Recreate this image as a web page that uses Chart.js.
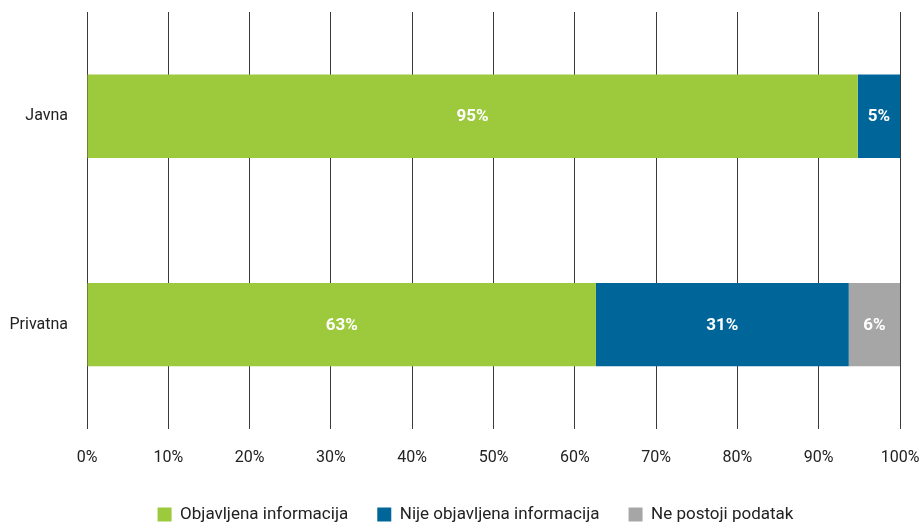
<!DOCTYPE html>
<html>
<head>
<meta charset="utf-8">
<script src="https://cdn.jsdelivr.net/npm/chart.js@4/dist/chart.umd.min.js"></script>
<style>
  body { margin: 0; background: #fff; }
  #wrap { width: 921px; height: 523px; }
</style>
</head>
<body>
<div id="wrap"><canvas id="chart" width="921" height="523"></canvas></div>
<script>
const categories = ['Javna', 'Privatna'];
const seriesNames = ['Objavljena informacija', 'Nije objavljena informacija', 'Ne postoji podatak'];
const objavljena = [94.8, 62.6];
const nijeObjavljena = [5.2, 31.1];
const nePostoji = [0, 6.3];
const colors = ['#9dc93c', '#006699', '#a6a6a6'];

const FONT = 'Roboto, "Noto Sans", sans-serif';

// draws the white % labels inside the segments
const barLabels = {
    id: 'barLabels',
    afterDatasetsDraw(chart) {
        const ctx = chart.ctx;
        ctx.save();
        ctx.fillStyle = '#fff';
        ctx.font = 'bold 17px ' + FONT;
        ctx.textAlign = 'center';
        ctx.textBaseline = 'middle';
        chart.data.datasets.forEach((ds, i) => {
            chart.getDatasetMeta(i).data.forEach((bar, j) => {
                const v = ds.data[j];
                if (!v) return;
                const x = (bar.x + bar.base) / 2;
                ctx.fillText(Math.round(v) + '%', x, bar.y + 1);
            });
        });
        ctx.restore();
    }
};

new Chart(document.getElementById('chart'), {
    type: 'bar',
    data: {
        labels: categories,
        datasets: [
            { label: seriesNames[0], data: objavljena, backgroundColor: colors[0] },
            { label: seriesNames[1], data: nijeObjavljena, backgroundColor: colors[1] },
            { label: seriesNames[2], data: nePostoji, backgroundColor: colors[2] }
        ]
    },
    options: {
        indexAxis: 'y',
        responsive: false,
        animation: false,
        categoryPercentage: 0.4,
        barPercentage: 1,
        // negative right padding only nudges the legend centre to the right
        layout: { padding: { top: 12, right: -30, left: 0, bottom: -10 } },
        plugins: {
            legend: {
                position: 'bottom',
                labels: {
                    boxWidth: 14, boxHeight: 14, padding: 8,
                    color: '#222', font: { size: 17, family: FONT },
                    // extra gap between legend items
                    generateLabels(chart) {
                        const items = Chart.defaults.plugins.legend.labels.generateLabels(chart);
                        items.forEach((it, i) => {
                            if (i < items.length - 1) it.text += '     ';
                        });
                        return items;
                    }
                }
            },
            tooltip: { enabled: false }
        },
        scales: {
            x: {
                stacked: true, min: 0, max: 100,
                ticks: { stepSize: 10, callback: v => v + '%', color: '#222', padding: 20, font: { size: 16, family: FONT } },
                grid: { color: '#3a3a3a', drawTicks: false },
                border: { display: false },
                afterFit(s) { s.paddingLeft = 0; s.paddingRight = 21; s.height += 10; }
            },
            y: {
                stacked: true,
                ticks: { color: '#222', padding: 19, font: { size: 16, family: FONT } },
                grid: { display: false, drawTicks: false },
                border: { display: false },
                afterFit(s) { s.paddingTop = 0; s.paddingBottom = 0; s.width = 87; }
            }
        }
    },
    plugins: [barLabels]
});
</script>
</body>
</html>
